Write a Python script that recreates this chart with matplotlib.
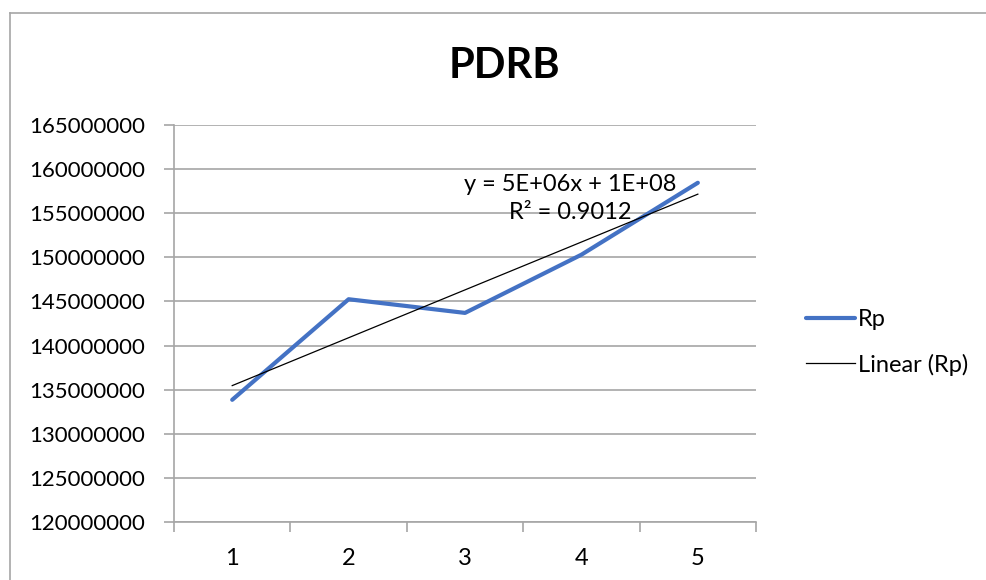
import matplotlib.pyplot as plt
import numpy as np
from matplotlib.lines import Line2D

plt.rcParams['font.family'] = ['Lato', 'DejaVu Sans']

# data
periods = [1, 2, 3, 4, 5]
rp = [133850000, 145250000, 143700000, 150300000, 158450000]
y_ticks = list(range(120000000, 165000001, 5000000))

fig = plt.figure(figsize=(9.87, 5.8), dpi=100)
ax = fig.add_axes([0.1763, 0.1, 0.5897, 0.6845])

# outer chart frame (left and top edges only are visible)
fig.add_artist(Line2D([0.0101, 0.0101], [0, 0.978], color='#a6a6a6', lw=1.2))
fig.add_artist(Line2D([0.0101, 1.0], [0.978, 0.978], color='#a6a6a6', lw=1.2))

ax.plot(periods, rp, color='#4472C4', lw=3, solid_capstyle='round', label='Rp', zorder=3)

# linear trendline
slope, icpt = np.polyfit(periods, rp, 1)
trend = [slope * p + icpt for p in periods]
ax.plot(periods, trend, color='black', lw=0.9, label='Linear (Rp)', zorder=4)

ax.text(3.9, 156700000, 'y = 5E+06x + 1E+08\nR² = 0.9012', ha='center', va='center',
        fontsize=17, linespacing=1.4, zorder=5)

ax.set_xlim(0.5, 5.5)
ax.set_ylim(120000000, 165000000)
ax.set_yticks(y_ticks)
ax.set_yticklabels([str(v) for v in y_ticks])
ax.set_xticks(periods)
ax.set_xticks([0.5, 1.5, 2.5, 3.5, 4.5, 5.5], minor=True)
ax.tick_params(axis='x', which='major', length=0, pad=19, labelsize=17)
ax.tick_params(axis='x', which='minor', length=7, color='#a6a6a6', width=1.2)
ax.tick_params(axis='y', length=7, color='#a6a6a6', width=1.2, pad=14, labelsize=16)

ax.grid(axis='y', color='#a6a6a6', lw=1.2)
ax.set_axisbelow(True)
for s in ['top', 'right']:
    ax.spines[s].set_visible(False)
for s in ['left', 'bottom']:
    ax.spines[s].set_color('#a6a6a6')
    ax.spines[s].set_linewidth(1.2)

fig.text(0.511, 0.886, 'PDRB', ha='center', va='center', fontsize=30, fontweight='bold')

fig.legend(loc='center left', bbox_to_anchor=(0.795, 0.41), frameon=False, fontsize=17,
           handlelength=2.1, handletextpad=0.1, labelspacing=1.0)

fig.savefig('out.png', dpi=100)
